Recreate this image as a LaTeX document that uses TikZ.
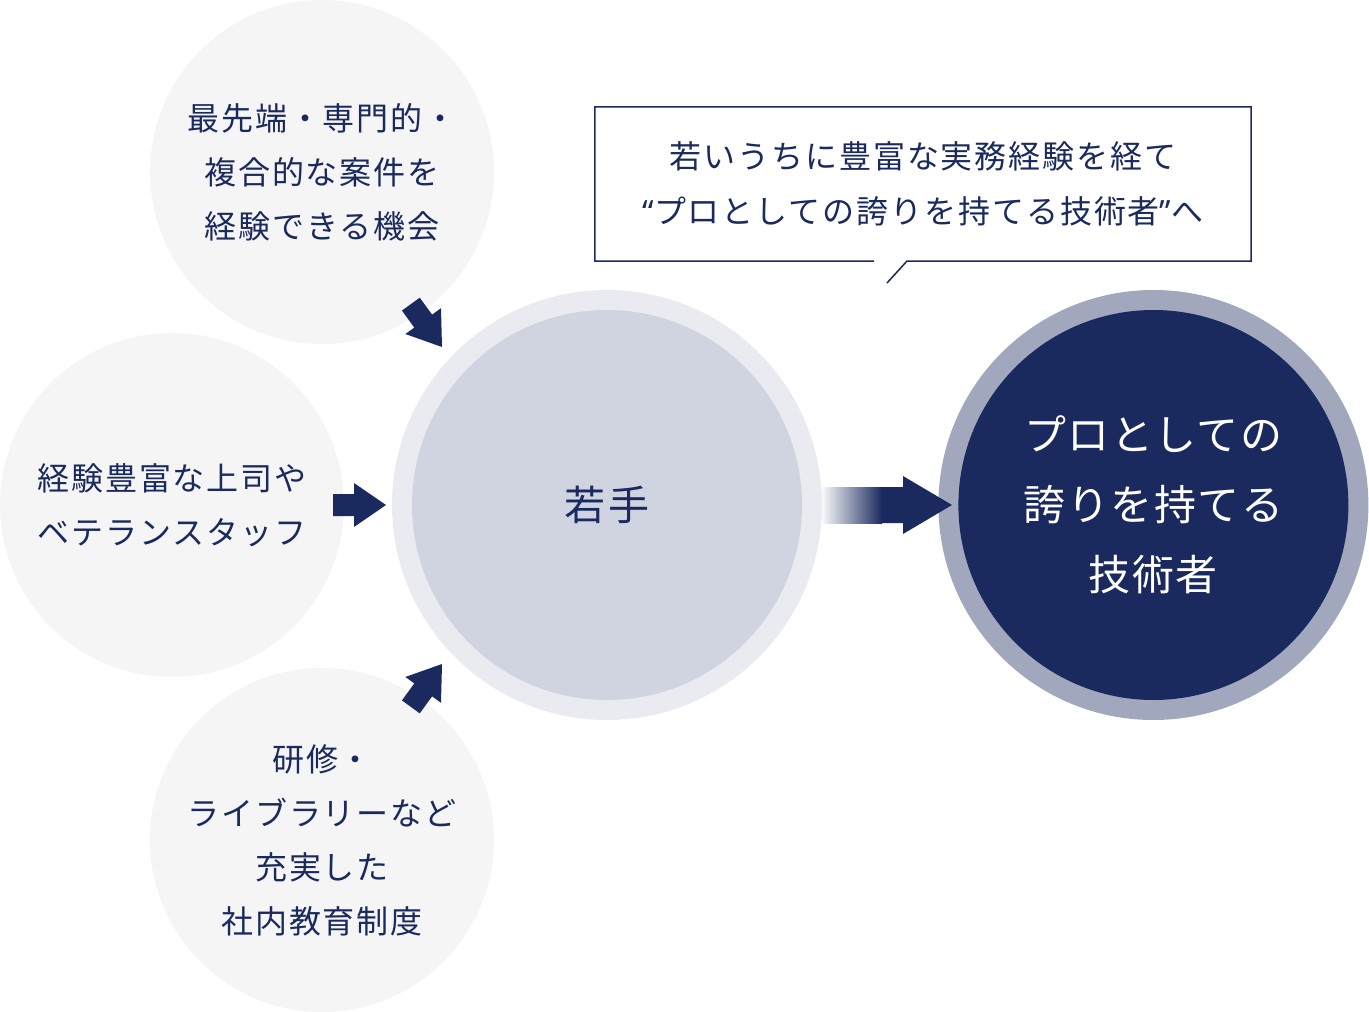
\documentclass[tikz,border=0pt]{standalone}
\usepackage{fontspec}
\setmainfont{Noto Sans CJK JP}[LetterSpace=6]
\newfontfamily\latinfont{Noto Sans}
\usepackage{tikz}
\usetikzlibrary{positioning}

\definecolor{navy}{HTML}{1B2A5E}
\definecolor{palegray}{HTML}{F5F5F6}
\definecolor{ringlight}{HTML}{EAEBF1}
\definecolor{corelight}{HTML}{D0D4E0}
\definecolor{ringdark}{HTML}{A1A8BE}

\tikzset{blockarrow/.pic={
  \fill[navy] (0,0) -- (-32,22) -- (-32,11) -- (-53,11) -- (-53,-11) -- (-32,-11) -- (-32,-22) -- cycle;
}}

\begin{document}
\begin{tikzpicture}[x=1pt, y=1pt, text=navy, inner sep=0pt]
  \tikzstyle{bubble}=[circle,fill=palegray,minimum size=344pt,align=center,font=\fontsize{32}{54}\selectfont]
  \tikzstyle{ring}=[circle,minimum size=430pt]
  \tikzstyle{core}=[circle,minimum size=390pt,align=center]

  \useasboundingbox (0,0) rectangle (1369,-1012);

  % sources
  \node[bubble] (chance) at (322,-172) {最先端・専門的・\\複合的な案件を\\経験できる機会};
  \node[bubble] (boss)   at (172,-505) {経験豊富な上司や\\ベテランスタッフ};
  \node[bubble] (study)  at (322,-840) {研修・\\ライブラリーなど\\充実した\\社内教育制度};

  % young -> pro
  \node[ring,fill=ringlight] (youngring) at (607,-505) {};
  \node[core,fill=corelight,font=\fontsize{41}{50}\selectfont] (young) at (youngring) {若手};
  \node[ring,fill=ringdark,right=116pt of youngring] (proring) {};
  \node[core,fill=navy,text=white,font=\fontsize{42}{70}\selectfont\addfontfeatures{LetterSpace=3.5}] (pro) at (proring) {プロとしての\\誇りを持てる\\技術者};

  % callout
  \node[minimum width=656pt,minimum height=154pt,align=center,font=\fontsize{32}{55}\selectfont] (callout) at (923,-184)
    {若いうちに豊富な実務経験を経て\\{\latinfont “}プロとしての誇りを持てる技術者{\latinfont ”}へ};
  \coordinate (gapL) at (874,-261);
  \coordinate (gapR) at (907,-261);
  \coordinate (tail) at (887,-283);
  \draw[navy,line width=1.5pt] (gapL) -- (callout.south west) -- (callout.north west)
    -- (callout.north east) -- (callout.south east) -- (gapR) -- (tail);

  % arrows
  \pic[rotate=-54] at (442,-347) {blockarrow};
  \pic             at (386,-505) {blockarrow};
  \pic[rotate=54]  at (442,-664) {blockarrow};

  \shade[left color=navy!3,right color=navy] (youngring.east) ++(0,18) rectangle (882,-523);
  \fill[navy] (881,-487) -- (903,-487) -- (903,-476) -- (952,-505) -- (903,-534) -- (903,-523) -- (881,-523) -- cycle;
\end{tikzpicture}
\end{document}
